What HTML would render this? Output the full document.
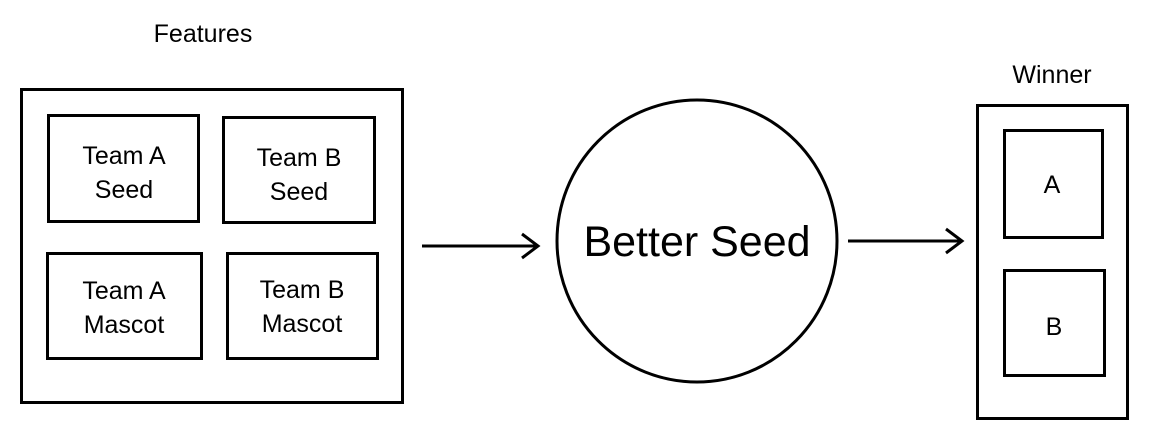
<!DOCTYPE html>
<html><head><style>
html,body{margin:0;padding:0;background:#fff;}
svg text{font-family:"Liberation Sans",sans-serif;fill:#000;}
</style></head><body>
<svg width="1168" height="436" viewBox="0 0 1168 436" xmlns="http://www.w3.org/2000/svg">
<g fill="none" stroke="#000" stroke-width="3">
<rect x="21.5" y="89.5" width="381" height="313"/>
<rect x="48.5" y="115.5" width="150" height="106"/>
<rect x="223.5" y="117.5" width="151" height="105"/>
<rect x="47.5" y="253.5" width="154" height="105"/>
<rect x="227.5" y="253.5" width="150" height="105"/>
<ellipse cx="697" cy="241" rx="140" ry="141"/>
<rect x="977.5" y="105.5" width="150" height="313"/>
<rect x="1004.5" y="130.5" width="98" height="107"/>
<rect x="1004.5" y="270.5" width="100" height="105"/>
<line x1="422" y1="246" x2="537" y2="246"/>
<polyline points="522,234 538,246 522,258"/>
<line x1="848" y1="241" x2="961" y2="241"/>
<polyline points="946,229 962,241 946,253"/>
</g>
<g font-size="25" text-anchor="middle">
<text x="203" y="42">Features</text>
<text x="124" y="164">Team A</text>
<text x="124" y="198">Seed</text>
<text x="299" y="166">Team B</text>
<text x="299" y="200">Seed</text>
<text x="124" y="299">Team A</text>
<text x="124" y="333">Mascot</text>
<text x="302" y="298">Team B</text>
<text x="302" y="332">Mascot</text>
<text x="1052" y="83">Winner</text>
<text x="1052" y="193">A</text>
<text x="1054" y="335">B</text>
</g>
<text x="697" y="256" font-size="43" text-anchor="middle">Better Seed</text>
</svg>
</body></html>
